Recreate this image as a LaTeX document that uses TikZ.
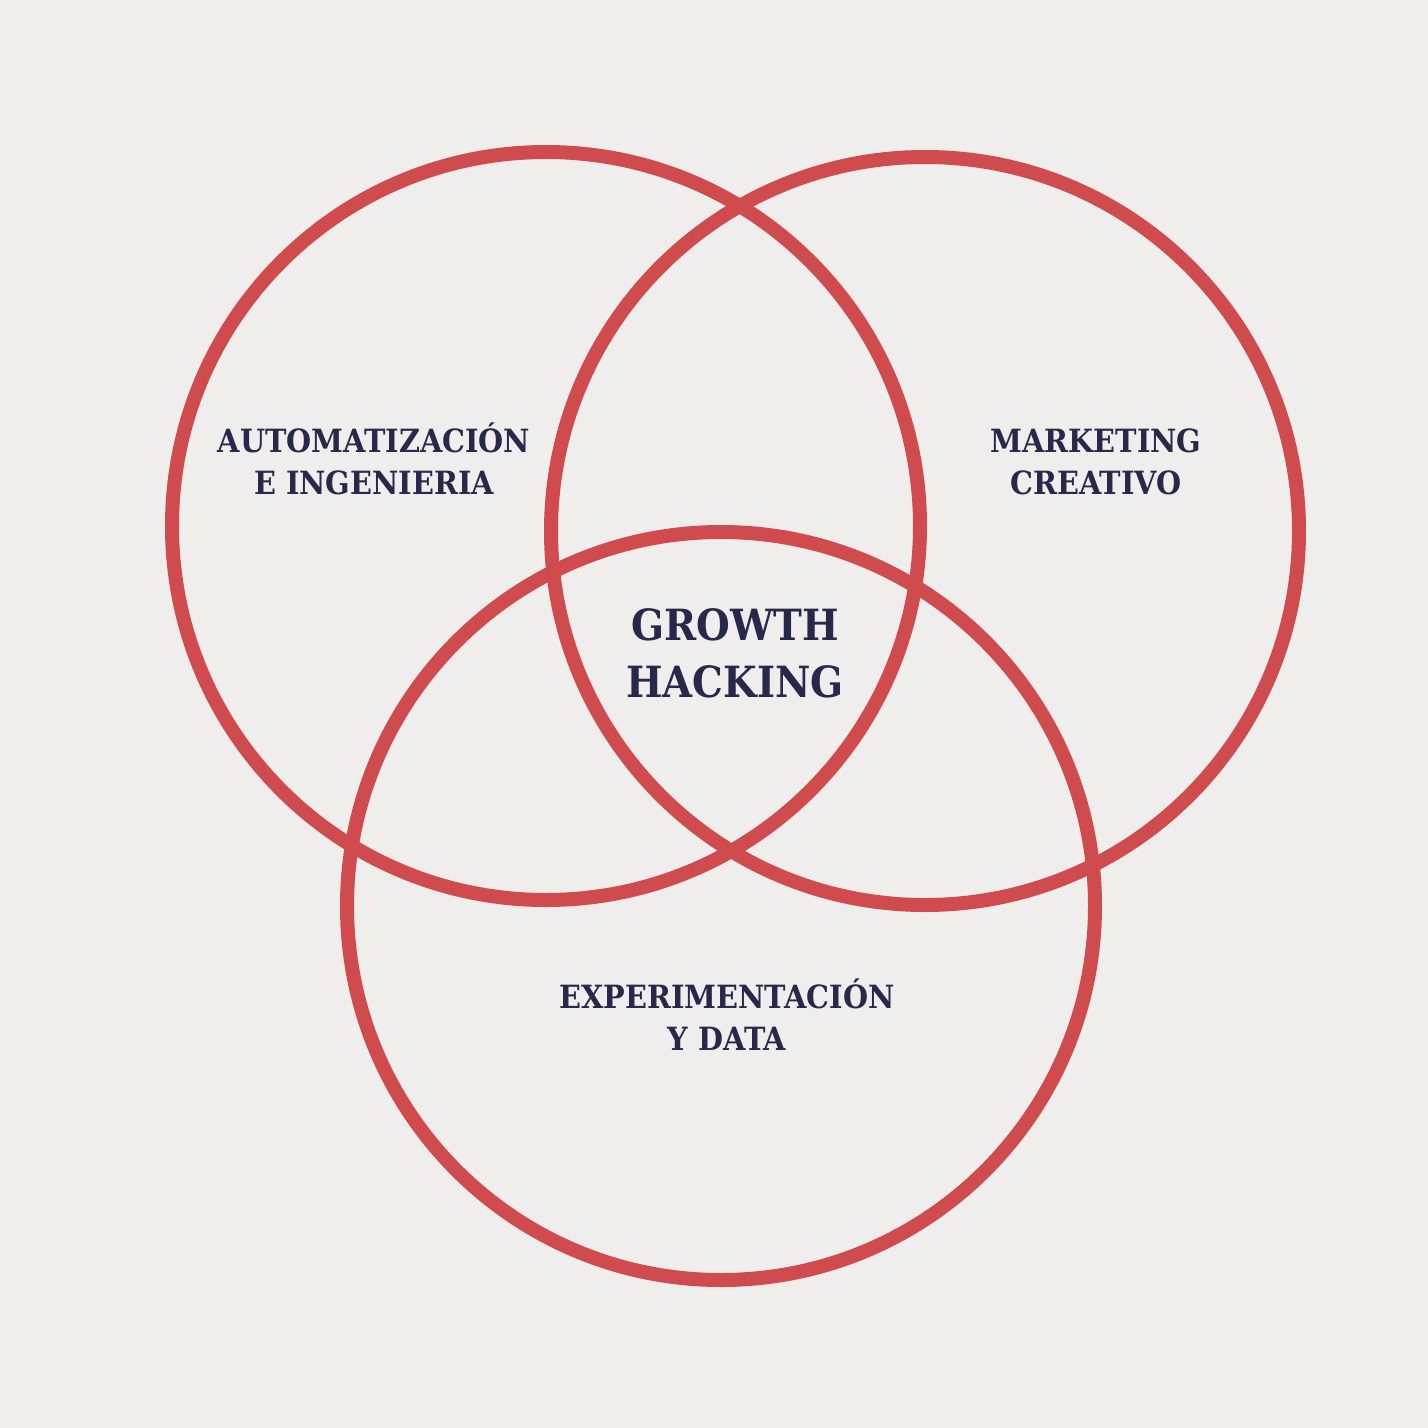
\documentclass[tikz,border=0pt]{standalone}
\usepackage{fontspec}
\setmainfont{DejaVu Serif Condensed}
\definecolor{bgcol}{HTML}{EFEEEC}
\definecolor{ringcol}{HTML}{D04B4E}
\definecolor{inkcol}{HTML}{27284A}
\begin{document}
\begin{tikzpicture}[x=1pt,y=-1pt,
  ring/.style={draw=ringcol,line width=14pt},
  label/.style={text=inkcol,align=center,font=\bfseries\fontsize{32}{42}\selectfont,inner sep=0pt},
  biglabel/.style={text=inkcol,align=center,font=\bfseries\fontsize{43}{57}\selectfont,inner sep=0pt}]
  % canvas
  \fill[bgcol] (0,0) rectangle (1428,1428);
  \useasboundingbox (0,0) rectangle (1428,1428);
  % the three overlapping rings
  \draw[ring] (546,526) circle[radius=374];
  \draw[ring] (925,531) circle[radius=374];
  \draw[ring] (721,906) circle[radius=374];
  % area labels (anchored on the baseline of the last line)
  \node[label,anchor=base] (auto) at (374,494) {AUTOMATIZACIÓN\\E INGENIERIA};
  \node[label,anchor=base] (mkt) at (1096,494) {MARKETING\\CREATIVO};
  \node[label,anchor=base] (exp) at (727,1050) {EXPERIMENTACIÓN\\Y DATA};
  \node[biglabel,anchor=base] (gh) at (735,697) {GROWTH\\HACKING};
\end{tikzpicture}
\end{document}
